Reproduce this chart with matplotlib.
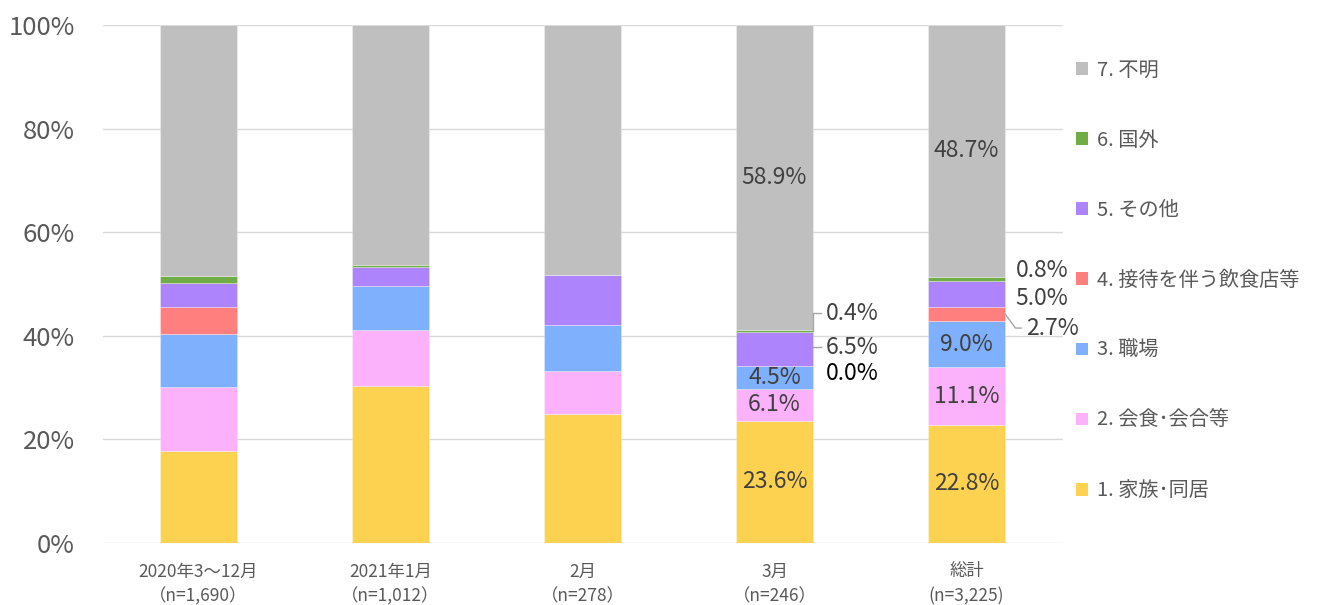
import matplotlib
matplotlib.use("Agg")
import matplotlib.pyplot as plt
from matplotlib.patches import Patch
import numpy as np

plt.rcParams['font.family'] = ['Noto Sans CJK JP', 'DejaVu Sans']

categories = ["2020年3〜12月\n（n=1,690）", "2021年1月\n（n=1,012）", "2月\n（n=278）",
              "3月\n（n=246）", "総計\n(n=3,225)"]
series_names = ["1. 家族･同居", "2. 会食･会合等", "3. 職場", "4. 接待を伴う飲食店等",
                "5. その他", "6. 国外", "7. 不明"]
family = [17.8, 30.3, 24.9, 23.6, 22.8]
dining = [12.4, 10.9, 8.3, 6.1, 11.1]
work = [10.2, 8.4, 8.8, 4.5, 9.0]
hostclub = [5.1, 0.0, 0.0, 0.0, 2.7]
other = [4.7, 3.7, 9.8, 6.5, 5.0]
abroad = [1.4, 0.3, 0.0, 0.4, 0.8]
unknown = [48.4, 46.4, 48.2, 58.9, 48.7]
yticks = [0, 20, 40, 60, 80, 100]
ytick_labels = ["0%", "20%", "40%", "60%", "80%", "100%"]

colors = ["#FCD250", "#FCB2FA", "#7FB0FD", "#FF7F7F", "#AD84FB", "#70AD47", "#BFBFBF"]
series = [family, dining, work, hostclub, other, abroad, unknown]

fig = plt.figure(figsize=(13.3, 6.05), dpi=100)
ax = fig.add_axes([0.0771, 0.1025, 0.7218, 0.856])

x = np.arange(len(categories))
w = 0.4
bottom = np.zeros(len(categories))
for vals, c, name in zip(series, colors, series_names):
    ax.bar(x, vals, w, bottom=bottom, color=c, label=name, zorder=2,
           edgecolor=(1, 1, 1, 0.35), linewidth=0.6)
    bottom += np.array(vals)

ax.set_xlim(-0.5, len(categories) - 0.5)
ax.set_ylim(0, 100)
ax.set_yticks(yticks)
ax.set_yticklabels(ytick_labels, fontsize=18.5, color="#595959")
ax.set_xticks(x)
ax.set_xticklabels(categories, fontsize=12.5, color="#595959", linespacing=1.5)
ax.tick_params(axis='both', length=0)
ax.tick_params(axis='y', pad=20)
ax.tick_params(axis='x', pad=14)
ax.grid(axis='y', color="#D9D9D9", linewidth=1, zorder=0)
for s in ax.spines.values():
    s.set_visible(False)

txt_col = "#404040"
fs = 16.5
# inside labels for 3月 and 総計
for i in [3, 4]:
    cum = 0
    for k, vals in enumerate(series):
        v = vals[i]
        if k in (0, 1, 2, 6):
            ax.text(i, cum + v / 2, f"{v:.1f}%", ha='center', va='center',
                    fontsize=fs, color=txt_col, zorder=3)
        cum += v

lc = "#A6A6A6"
# external labels for 3月
i = 3
cum4 = family[i] + dining[i] + work[i] + hostclub[i] + other[i]
ax.plot([i + w / 2, i + w / 2, i + w / 2 + 0.04], [cum4 + abroad[i] / 2, 44.4, 44.4],
        color=lc, lw=1, zorder=3, clip_on=False)
ax.text(i + 0.265, 44.4, f"{abroad[i]:.1f}%", ha='left', va='center', fontsize=fs, color=txt_col)
ax.plot([i + w / 2, i + w / 2 + 0.04], [37.8, 37.8], color=lc, lw=1, zorder=3)
ax.text(i + 0.265, 37.8, f"{other[i]:.1f}%", ha='left', va='center', fontsize=fs, color=txt_col)
ax.text(i + 0.265, 32.8, f"{hostclub[i]:.1f}%", ha='left', va='center', fontsize=fs, color="black")

# external labels for 総計
i = 4
cum3 = family[i] + dining[i] + work[i]
ax.text(i + 0.255, 52.7, f"{abroad[i]:.1f}%", ha='left', va='center', fontsize=fs, color=txt_col)
ax.text(i + 0.255, 47.3, f"{other[i]:.1f}%", ha='left', va='center', fontsize=fs, color=txt_col)
ax.plot([i + w / 2, i + w / 2 + 0.055, i + w / 2 + 0.085],
        [cum3 + hostclub[i] / 2, 41.5, 41.5], color=lc, lw=1, zorder=3, clip_on=False)
ax.text(i + 0.31, 41.5, f"{hostclub[i]:.1f}%", ha='left', va='center', fontsize=fs, color=txt_col)

# legend
handles = [Patch(facecolor=c, edgecolor='none') for c in colors][::-1]
labels = series_names[::-1]
fig.legend(handles, labels, loc='upper left', bbox_to_anchor=(0.803, 0.915),
           frameon=False, fontsize=14.5, labelcolor="#595959",
           handlelength=0.6, handleheight=0.6, handletextpad=0.45,
           labelspacing=2.44, borderaxespad=0)

fig.savefig("out.png", dpi=100)
